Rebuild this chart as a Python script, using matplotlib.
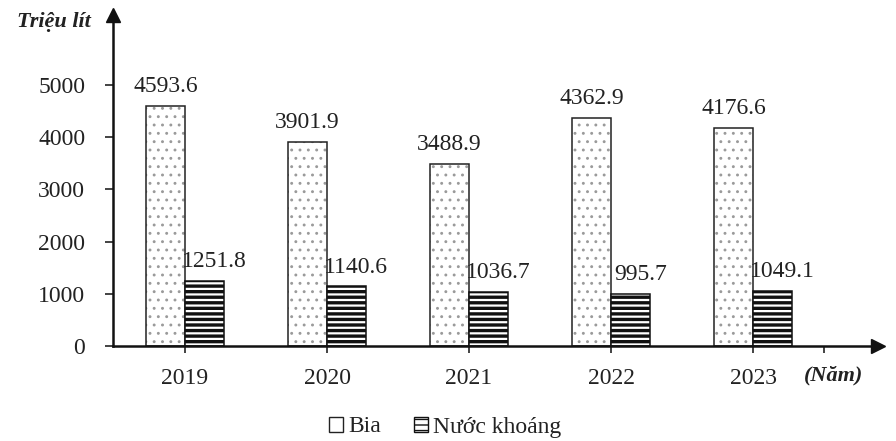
import numpy as np
import matplotlib
matplotlib.use("Agg")
import matplotlib.pyplot as plt
from matplotlib.patches import Patch

years = ["2019", "2020", "2021", "2022", "2023"]
bia = [4593.6, 3901.9, 3488.9, 4362.9, 4176.6]
nuoc_khoang = [1251.8, 1140.6, 1036.7, 995.7, 1049.1]
y_ticks = [0, 1000, 2000, 3000, 4000, 5000]

plt.rcParams["font.family"] = ["Liberation Serif", "DejaVu Serif"]

fig = plt.figure(figsize=(8.96, 4.41), dpi=100)
ax = fig.add_axes([113 / 896, 1 - 346 / 441, (878 - 113) / 896, 331 / 441])

x = np.arange(len(years))
w = 0.275

# Bia: light grey dots, black outline drawn on top
with plt.rc_context({"hatch.linewidth": 0.9}):
    ax.bar(x, bia, width=-w, align="edge", color="white", edgecolor="#9a9a9a",
           hatch="..", linewidth=0)
ax.bar(x, bia, width=-w, align="edge", fill=False, edgecolor="#222222", linewidth=1.1)
# Nuoc khoang: dense horizontal stripes
with plt.rc_context({"hatch.linewidth": 2.4}):
    ax.bar(x, nuoc_khoang, width=w, align="edge", color="white", edgecolor="#111111",
           hatch="---", linewidth=1.1)

for i in range(len(years)):
    ax.annotate(f"{bia[i]:.1f}", (x[i] - w / 2, bia[i]), xytext=(0, 10),
                textcoords="offset points", ha="center", va="baseline",
                fontsize=17, color="#222222")
    ax.annotate(f"{nuoc_khoang[i]:.1f}", (x[i] + w / 2, nuoc_khoang[i]), xytext=(7, 10),
                textcoords="offset points", ha="center", va="baseline",
                fontsize=17, color="#222222")

ax.set_xlim(-0.507, 4.88)
ax.set_ylim(0, 6340)
ax.set_xticks(x)
ax.set_xticklabels(years)
ax.set_xticks([4.5], minor=True)
ax.set_yticks(y_ticks)
ax.tick_params(axis="x", which="both", direction="out", length=5, width=1.2, pad=11,
               labelsize=17, colors="#222222")
ax.tick_params(axis="y", direction="out", length=6, width=1.2, pad=14,
               labelsize=17, colors="#222222")

for side in ["top", "right"]:
    ax.spines[side].set_visible(False)
for side in ["left", "bottom"]:
    ax.spines[side].set_linewidth(1.8)
    ax.spines[side].set_color("#111111")

# arrow heads
ax.plot(0, 1, marker="^", markersize=10, color="#111111", transform=ax.transAxes,
        clip_on=False)
ax.plot(1, 0, marker=">", markersize=10, color="#111111", transform=ax.transAxes,
        clip_on=False)

fig.text(17 / 896, 1 - 22 / 441, "Triệu lít", fontsize=16, style="italic",
         fontweight="bold", va="center", ha="left", color="#222222")
fig.text(834 / 896, 1 - 375 / 441, "(Năm)", fontsize=16, style="italic",
         fontweight="bold", va="center", ha="center", color="#222222")

with plt.rc_context({"hatch.linewidth": 1.6}):
    handles = [
        Patch(facecolor="white", edgecolor="#222222", linewidth=1.0),
        Patch(facecolor="white", edgecolor="#111111", hatch="---", linewidth=1.0),
    ]
fig.legend(handles, ["Bia", "Nước khoáng"], loc="center", bbox_to_anchor=(445 / 896, 1 - 427 / 441),
           ncol=2, frameon=False, fontsize=17, handlelength=0.6, handleheight=0.6,
           handletextpad=0.2, columnspacing=1.4, labelcolor="#222222")

fig.savefig("out.png", dpi=100)
